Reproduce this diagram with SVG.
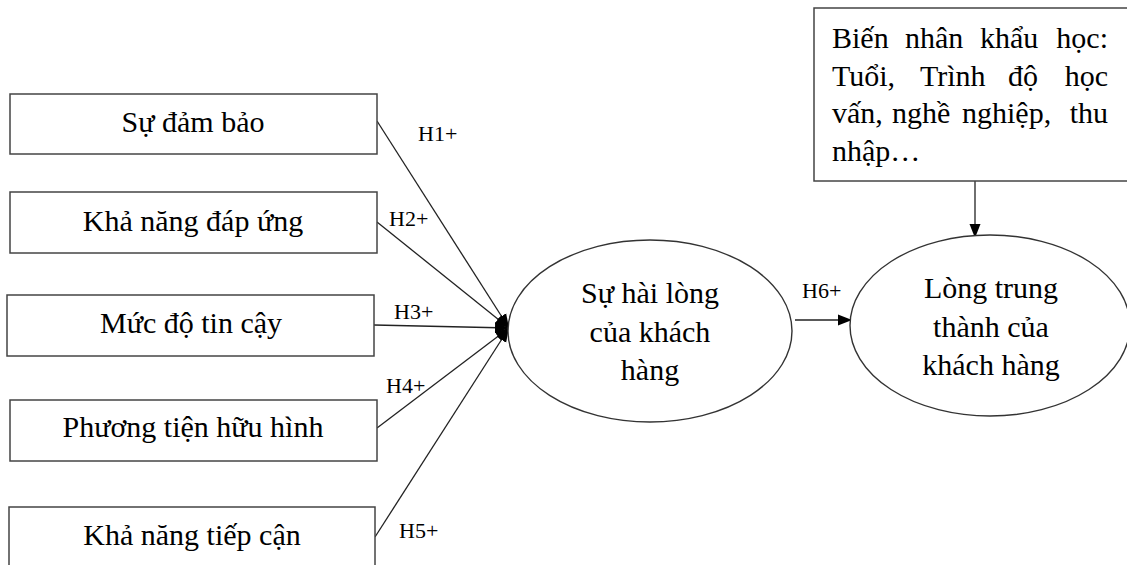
<svg xmlns="http://www.w3.org/2000/svg" width="1127" height="565" viewBox="0 0 1127 565">
<style>
.box{fill:#fff;stroke:#444;stroke-width:1.5}
.ell{fill:#fff;stroke:#333;stroke-width:1.4}
.t{font-family:"Liberation Serif","Times New Roman",serif;font-size:30px;fill:#000}
.c{text-anchor:middle}
.lab{font-family:"Liberation Serif","Times New Roman",serif;font-size:22px;fill:#000}
.ln{stroke:#222;stroke-width:1.3;fill:none}
</style>
<defs>
<marker id="ah" markerWidth="15" markerHeight="12" refX="14" refY="5.5" orient="auto" markerUnits="userSpaceOnUse" viewBox="0 0 15 11">
<path d="M0,0 L14,5.5 L0,11 Z" fill="#000"/>
</marker>
</defs>
<rect width="1127" height="565" fill="#fff"/>
<g id="connectors">
<line class="ln" x1="377" y1="121" x2="509" y2="328" marker-end="url(#ah)"/>
<line class="ln" x1="377" y1="222" x2="509" y2="328" marker-end="url(#ah)"/>
<line class="ln" x1="374" y1="325" x2="509" y2="328" marker-end="url(#ah)"/>
<line class="ln" x1="377" y1="428" x2="509" y2="328" marker-end="url(#ah)"/>
<line class="ln" x1="375" y1="537" x2="509" y2="328" marker-end="url(#ah)"/>
<line class="ln" x1="795" y1="320" x2="852" y2="320" marker-end="url(#ah)"/>
<line class="ln" x1="975" y1="181" x2="975" y2="238" marker-end="url(#ah)"/>
<text class="lab" x="418" y="141">H1+</text>
<text class="lab" x="389" y="226">H2+</text>
<text class="lab" x="394" y="319">H3+</text>
<text class="lab" x="386" y="393">H4+</text>
<text class="lab" x="399" y="538">H5+</text>
<text class="lab" x="802" y="298">H6+</text>
</g>
<g id="n1"><rect class="box" x="10" y="94" width="367" height="60"/><text class="t c" x="193" y="132">Sự đảm bảo</text></g>
<g id="n2"><rect class="box" x="10" y="192" width="367" height="61"/><text class="t c" x="193" y="231">Khả năng đáp ứng</text></g>
<g id="n3"><rect class="box" x="7" y="295" width="367" height="61"/><text class="t c" x="191" y="333">Mức độ tin cậy</text></g>
<g id="n4"><rect class="box" x="10" y="400" width="367" height="61"/><text class="t c" x="193" y="437">Phương tiện hữu hình</text></g>
<g id="n5"><rect class="box" x="9" y="507" width="366" height="70"/><text class="t c" x="192" y="545">Khả năng tiếp cận</text></g>
<g id="n6"><ellipse class="ell" cx="650" cy="331" rx="142" ry="91"/>
<text class="t c" x="650" y="303">Sự hài lòng</text>
<text class="t c" x="650" y="342">của khách</text>
<text class="t c" x="650" y="380">hàng</text></g>
<g id="n7"><ellipse class="ell" cx="990" cy="325.5" rx="140" ry="90.5"/>
<text class="t c" x="991" y="298">Lòng trung</text>
<text class="t c" x="991" y="337">thành của</text>
<text class="t c" x="991" y="375">khách hàng</text></g>
<g id="n8"><rect class="box" x="814" y="8" width="316" height="173"/>
<text class="t" y="48"><tspan x="832">Biến</tspan><tspan x="905">nhân</tspan><tspan x="980">khẩu</tspan><tspan x="1108" text-anchor="end">học:</tspan></text>
<text class="t" y="86"><tspan x="832">Tuổi,</tspan><tspan x="920">Trình</tspan><tspan x="1008">độ</tspan><tspan x="1108" text-anchor="end">học</tspan></text>
<text class="t" y="123"><tspan x="832">vấn,</tspan><tspan x="892">nghề</tspan><tspan x="962">nghiệp,</tspan><tspan x="1108" text-anchor="end">thu</tspan></text>
<text class="t" y="161"><tspan x="832">nhập…</tspan></text>
</g>
</svg>
